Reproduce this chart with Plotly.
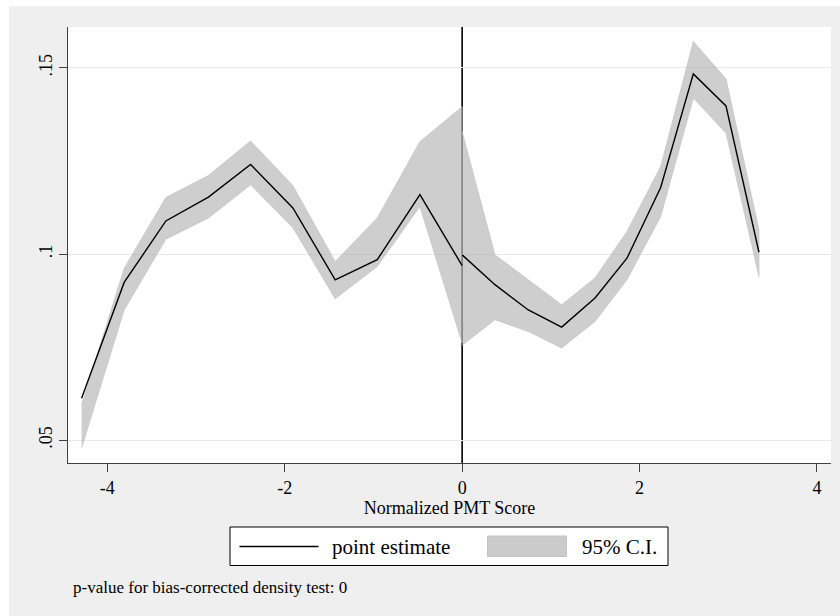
import plotly.graph_objects as go

# ---- data ----
x_left = [-4.29, -3.81, -3.34, -2.86, -2.385, -1.908, -1.431, -0.957, -0.476, 0.0]
est_left = [0.0613, 0.0924, 0.1089, 0.1153, 0.1241, 0.1124, 0.0931, 0.0985, 0.1160, 0.0969]
ci_left_hi = [0.0595, 0.0962, 0.1152, 0.1211, 0.1304, 0.1184, 0.0980, 0.1097, 0.1302, 0.1396]
ci_left_lo = [0.0479, 0.0850, 0.1040, 0.1097, 0.1186, 0.1071, 0.0880, 0.0967, 0.1128, 0.0761]

x_right = [0.0, 0.370, 0.746, 1.122, 1.498, 1.858, 2.238, 2.606, 2.974, 3.346]
est_right = [0.0998, 0.0918, 0.0850, 0.0804, 0.0882, 0.0989, 0.1179, 0.1484, 0.1398, 0.1005]
ci_right_hi = [0.1329, 0.0998, 0.0931, 0.0864, 0.0936, 0.1061, 0.1235, 0.1571, 0.1471, 0.1065]
ci_right_lo = [0.0755, 0.0824, 0.0792, 0.0748, 0.0819, 0.0931, 0.1101, 0.1419, 0.1325, 0.0940]

x_ticks = [-4, -2, 0, 2, 4]
x_ticklabels = ["-4", "-2", "0", "2", "4"]
y_ticks = [0.05, 0.1, 0.15]
y_ticklabels = [".05", ".1", ".15"]

x_title = "Normalized PMT Score"
legend_labels = ["point estimate", "95% C.I."]
note_text = "p-value for bias-corrected density test: 0"

# ---- styling ----
FONT = "Liberation Serif"
W, H = 840, 616
ML, MR, MT, MB = 68, 9, 27, 153
PW, PH = W - ML - MR, H - MT - MB
CI_FILL = "rgba(170,170,170,0.58)"
CI_EDGE = "rgba(195,195,195,0.9)"


def px(xp):
    return (xp - ML) / PW


def py(yp):
    return (H - MB - yp) / PH


fig = go.Figure()

for xs, hi, lo in [(x_left, ci_left_hi, ci_left_lo), (x_right, ci_right_hi, ci_right_lo)]:
    fig.add_trace(go.Scatter(
        x=list(xs) + list(xs)[::-1],
        y=list(hi) + list(lo)[::-1],
        fill="toself", fillcolor=CI_FILL,
        line=dict(color=CI_EDGE, width=0.8),
        mode="lines", hoverinfo="skip", showlegend=False,
        name=legend_labels[1],
    ))

for xs, ys in [(x_left, est_left), (x_right, est_right)]:
    fig.add_trace(go.Scatter(
        x=xs, y=ys, mode="lines",
        line=dict(color="black", width=1.4),
        showlegend=False, name=legend_labels[0],
    ))

shapes = []
# cutoff line at 0
shapes.append(dict(type="line", xref="x", yref="paper", x0=0, x1=0, y0=0, y1=1,
                   line=dict(color="black", width=1.6), layer="between"))
# white outer strips (left and top) around the grey graph region
shapes.append(dict(type="rect", xref="paper", yref="paper",
                   x0=px(-2), x1=px(9), y0=py(H + 2), y1=py(-2),
                   fillcolor="white", line=dict(width=0), layer="below"))
shapes.append(dict(type="rect", xref="paper", yref="paper",
                   x0=px(-2), x1=px(W + 2), y0=py(6), y1=py(-2),
                   fillcolor="white", line=dict(width=0), layer="below"))
# legend box
shapes.append(dict(type="rect", xref="paper", yref="paper",
                   x0=px(230), x1=px(668), y0=py(565.5), y1=py(527),
                   fillcolor="white", line=dict(color="black", width=1), layer="above"))
shapes.append(dict(type="line", xref="paper", yref="paper",
                   x0=px(239.5), x1=px(318.5), y0=py(546.5), y1=py(546.5),
                   line=dict(color="black", width=1.5), layer="above"))
shapes.append(dict(type="rect", xref="paper", yref="paper",
                   x0=px(487.5), x1=px(566.5), y0=py(556.5), y1=py(536),
                   fillcolor="#cbcbcb", line=dict(color="#c2c2c2", width=1), layer="above"))

annotations = [
    dict(text=legend_labels[0], xref="paper", yref="paper", x=px(330), y=py(546.5),
         xanchor="left", yanchor="middle", showarrow=False,
         font=dict(family=FONT, size=21, color="black")),
    dict(text=legend_labels[1], xref="paper", yref="paper", x=px(580), y=py(546.5),
         xanchor="left", yanchor="middle", showarrow=False,
         font=dict(family=FONT, size=21, color="black")),
    dict(text=note_text, xref="paper", yref="paper", x=px(71), y=py(587.5),
         xanchor="left", yanchor="middle", showarrow=False,
         font=dict(family=FONT, size=17, color="black")),
]

fig.update_layout(
    width=W, height=H,
    margin=dict(l=ML, r=MR, t=MT, b=MB, pad=0),
    paper_bgcolor="#efefef",
    plot_bgcolor="white",
    font=dict(family=FONT, color="black"),
    showlegend=False,
    shapes=shapes,
    annotations=annotations,
    xaxis=dict(
        range=[-4.443, 4.158], tickvals=x_ticks, ticktext=x_ticklabels,
        showgrid=False, zeroline=False,
        showline=True, linecolor="#404040", linewidth=1,
        ticks="outside", ticklen=8, tickcolor="#404040", tickwidth=1,
        tickfont=dict(family=FONT, size=18, color="black"),
        title=dict(text=x_title, font=dict(family=FONT, size=18, color="black"), standoff=0),
    ),
    yaxis=dict(
        range=[0.0439, 0.1610], tickvals=y_ticks, ticktext=y_ticklabels,
        showgrid=True, gridcolor="#e8e8e8", gridwidth=1.2, zeroline=False,
        showline=True, linecolor="#404040", linewidth=1,
        ticks="outside", ticklen=8, tickcolor="#404040", tickwidth=1,
        tickangle=-90,
        tickfont=dict(family=FONT, size=18, color="black"),
    ),
)

fig.write_html("out.html")
